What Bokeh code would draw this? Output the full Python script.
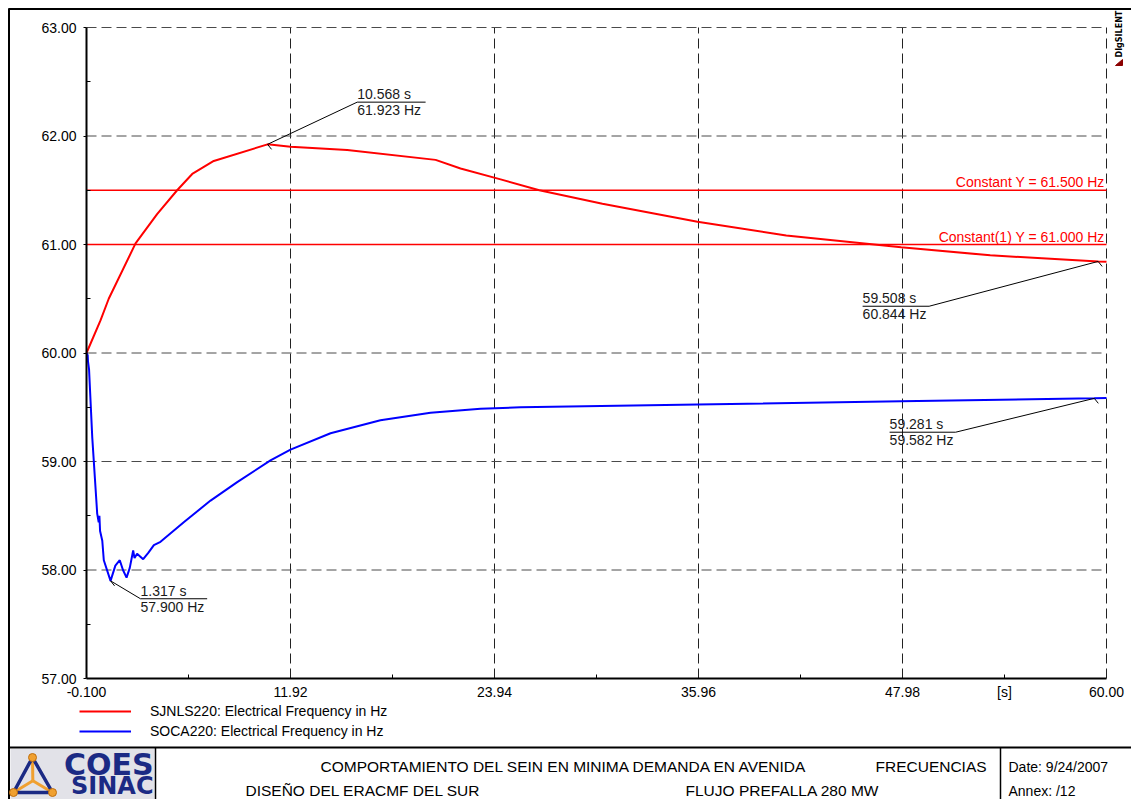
import math
from bokeh.plotting import figure
from bokeh.models import (FixedTicker, Legend, LegendItem, ColumnDataSource, Range1d,
                          CustomJSTickFormatter)
from bokeh.core.properties import value
from bokeh.embed import file_html
from bokeh.resources import INLINE

# ---------------- data ----------------
red_name = "SJNLS220: Electrical Frequency in Hz"
red_t = [-0.1, 0.725, 1.21, 2.79, 4.06, 5.24, 6.13, 7.40, 10.568, 11.92, 15.26, 20.47,
         21.94, 24.30, 26.58, 30.30, 35.90, 41.13, 47.90, 53.15, 59.508, 60.0]
red_f = [60.00, 60.30, 60.50, 61.01, 61.28, 61.50, 61.65, 61.77, 61.923, 61.90, 61.87, 61.78,
         61.70, 61.60, 61.50, 61.375, 61.21, 61.083, 60.975, 60.90, 60.844, 60.84]

blue_name = "SOCA220: Electrical Frequency in Hz"
blue_t = [-0.1, -0.03, -0.01, 0.05, 0.24, 0.53, 0.62, 0.66, 0.70, 0.83, 0.92, 1.317,
          1.60, 1.86, 2.05, 2.26, 2.45, 2.65, 2.73, 2.88, 3.24, 3.55, 3.87, 4.26,
          5.63, 7.21, 8.78, 10.74, 11.92, 14.28, 17.22, 20.17, 23.12, 25.47,
          35.90, 47.90, 59.281, 60.0]
blue_f = [60.00, 59.98, 59.92, 59.85, 59.22, 58.52, 58.44, 58.50, 58.36, 58.27, 58.09, 57.90,
          58.04, 58.09, 58.00, 57.93, 58.02, 58.18, 58.11, 58.15, 58.10, 58.16, 58.23, 58.26,
          58.44, 58.64, 58.81, 59.01, 59.11, 59.26, 59.38, 59.45, 59.486, 59.50,
          59.525, 59.556, 59.582, 59.585]

const_levels = [61.5, 61.0]
const_labels = ["Constant Y = 61.500 Hz", "Constant(1) Y = 61.000 Hz"]

x_min, x_max = -0.1, 60.0
y_min, y_max = 57.0, 63.0
x_ticks = [-0.1, 11.92, 23.94, 35.96, 47.98, 60.0]
x_tick_labels = ["-0.100", "11.92", "23.94", "35.96", "47.98", "60.00"]
x_unit_pos = 53.99
x_unit_label = "[s]"
y_ticks = [57.0, 58.0, 59.0, 60.0, 61.0, 62.0, 63.0]
y_tick_labels = ["57.00", "58.00", "59.00", "60.00", "61.00", "62.00", "63.00"]

# cursor annotations (marked point, label box in data coordinates)
ann_t = [10.568, 59.508, 59.281, 1.317]
ann_f = [61.923, 60.844, 59.582, 57.900]
ann_x0 = [15.85, 45.63, 47.22, 3.08]
ann_x1 = [19.88, 49.55, 51.11, 7.01]
ann_y = [62.312, 60.431, 59.270, 57.735]
ann_side = ["left", "right", "right", "left"]

title_line1 = "COMPORTAMIENTO DEL SEIN EN MINIMA DEMANDA EN AVENIDA"
title_tag = "FRECUENCIAS"
title_line2 = "DISEÑO DEL ERACMF DEL SUR"
title_line2b = "FLUJO PREFALLA  280 MW"
date_text = "Date:  9/24/2007"
annex_text = "Annex:  /12"
logo_top = "COES"
logo_bottom = "SINAC"
brand = "DIgSILENT"

FONT = "Liberation Sans"
RED = "#ff0000"
BLUE = "#0000ff"
NAVY = "#1b2a84"
ORANGE = "#f0a030"

# page geometry (pixels): plot area inside the 1131 x 799 page
W, H = 1131, 799
AREA_L, AREA_R, AREA_T, AREA_B = 86, 1106, 27, 678
PXS = (AREA_R - AREA_L) / (x_max - x_min)   # pixels per second
PXH = (AREA_B - AREA_T) / (y_max - y_min)   # pixels per Hz

p = figure(width=W, height=H,
           x_range=Range1d(x_min - AREA_L / PXS, x_max + (W - AREA_R) / PXS),
           y_range=Range1d(y_min - (H - AREA_B) / PXH, y_max + AREA_T / PXH),
           output_backend="svg", toolbar_location=None, min_border=0)
p.extra_x_ranges = {"page": Range1d(0, W)}
p.extra_y_ranges = {"page": Range1d(H, 0)}
p.outline_line_color = None
p.background_fill_color = "white"
p.border_fill_color = "white"
p.grid.visible = False

# ---------------- axes (fixed at the plot-area edges) ----------------
x_minor = [(a + b) / 2 for a, b in zip(x_ticks[:-1], x_ticks[1:])]
y_minor = [(a + b) / 2 for a, b in zip(y_ticks[:-1], y_ticks[1:])]
fmt_code = """
for (let i = 0; i < tk.length; i++) {
  if (Math.abs(tick - tk[i]) < 1e-6) return lb[i];
}
return '';
"""
xa, ya = p.xaxis[0], p.yaxis[0]
xa.ticker = FixedTicker(ticks=x_ticks + [x_unit_pos], minor_ticks=x_minor)
ya.ticker = FixedTicker(ticks=y_ticks, minor_ticks=y_minor)
xa.formatter = CustomJSTickFormatter(args=dict(tk=x_ticks + [x_unit_pos],
                                               lb=x_tick_labels + [x_unit_label]), code=fmt_code)
ya.formatter = CustomJSTickFormatter(args=dict(tk=y_ticks, lb=y_tick_labels), code=fmt_code)
xa.fixed_location = y_min
ya.fixed_location = x_min
xa.bounds = (x_min, x_max)
ya.bounds = (y_min, y_max)
for ax in (xa, ya):
    ax.axis_line_width = 2
    ax.axis_line_color = "black"
    ax.major_label_text_font = FONT
    ax.major_label_text_font_size = "14px"
    ax.major_label_text_color = "black"
    ax.minor_tick_in = 4
    ax.minor_tick_out = 0
    ax.minor_tick_line_color = "black"
    ax.major_tick_line_color = "black"
xa.major_tick_in = 0
xa.major_tick_out = 0
xa.major_label_standoff = 5
ya.major_tick_in = 0
ya.major_tick_out = 3
ya.major_label_standoff = 7

# dashed grid inside the plot area
p.segment(x0=x_ticks[1:], y0=[y_min] * (len(x_ticks) - 1), x1=x_ticks[1:],
          y1=[y_max] * (len(x_ticks) - 1), line_color="#222222", line_width=1,
          line_dash="10 5")
p.segment(x0=[x_min] * (len(y_ticks) - 1), y0=y_ticks[1:], x1=[x_max] * (len(y_ticks) - 1),
          y1=y_ticks[1:], line_color="#4a4a4a", line_width=1, line_dash="10 5")

# constant lines
p.segment(x0=[x_min] * len(const_levels), y0=const_levels, x1=[x_max] * len(const_levels),
          y1=const_levels, line_color=RED, line_width=1.5)
p.text(x=[x_max - 0.1] * len(const_levels), y=const_levels, text=const_labels,
       text_color=RED, text_font=value(FONT), text_font_size=value("14px"),
       text_align="right", text_baseline="bottom")

# curves
r_red = p.line(red_t, red_f, line_color=RED, line_width=2)
r_blue = p.line(blue_t, blue_f, line_color=BLUE, line_width=2)

# cursor annotations
end_x = [a if s == "left" else b for a, b, s in zip(ann_x0, ann_x1, ann_side)]
p.segment(x0=ann_t, y0=ann_f, x1=end_x, y1=ann_y, line_color="black", line_width=1)
p.segment(x0=ann_x0, y0=ann_y, x1=ann_x1, y1=ann_y, line_color="black", line_width=1)
p.segment(x0=ann_t, y0=ann_f, x1=[t + 4 / PXS for t in ann_t],
          y1=[f - 5 / PXH for f in ann_f], line_color="black", line_width=1)
src = ColumnDataSource(dict(x=ann_x0, y=ann_y,
                            ts=[f"{t:.3f} s" for t in ann_t],
                            fs=[f"{f:.3f} Hz" for f in ann_f]))
p.text(x="x", y="y", text="ts", source=src, text_color="#1a1a1a", text_font=value(FONT),
       text_font_size=value("14px"), text_align="left", text_baseline="bottom")
p.text(x="x", y="y", text="fs", source=src, text_color="#1a1a1a", text_font=value(FONT),
       text_font_size=value("14px"), text_align="left", text_baseline="top")

# legend under the plot area (screen units from the page's bottom-left)
p.add_layout(Legend(items=[LegendItem(label=red_name, renderers=[r_red]),
                           LegendItem(label=blue_name, renderers=[r_blue])],
                    location=(79, 58), orientation="vertical",
                    border_line_alpha=0, background_fill_alpha=0, padding=0, margin=0,
                    spacing=0, label_height=20, glyph_height=20, glyph_width=52,
                    label_standoff=19, label_text_font=FONT, label_text_font_size="14px",
                    label_text_color="black"))

# ---------------- page frame and title block (page pixel coordinates) ----------------
pg = dict(x_range_name="page", y_range_name="page")
p.quad(left=[10], right=[154], top=[748.5], bottom=[799], fill_color="#e2e2e8",
       line_alpha=0, **pg)
p.segment(x0=[8.5, 8, 8, 155, 1000], y0=[8, 8.5, 747, 747, 747],
          x1=[8.5, W, W, 155, 1000], y1=[H, 8.5, 747, H, H],
          line_color="black", line_width=[2, 2, 2, 1.5, 1.5], **pg)

tri_x = [32, 13, 52]
tri_y = [757, 792, 792]
cx, cy = sum(tri_x) / 3, sum(tri_y) / 3
p.multi_line(xs=[[cx, vx] for vx in tri_x], ys=[[cy, vy] for vy in tri_y],
             line_color=ORANGE, line_width=3, **pg)
p.line(x=tri_x + tri_x[:1], y=tri_y + tri_y[:1], line_color=NAVY, line_width=3.5, **pg)
p.scatter(x=tri_x, y=tri_y, size=8, fill_color=ORANGE, line_color="#c07010", **pg)
p.text(x=[153, 153], y=[763.5, 785], text=[logo_top, logo_bottom], text_color=NAVY,
       text_font=value("DejaVu Sans"), text_font_style="bold",
       text_font_size=["30px", "24px"], text_align="right", text_baseline="middle", **pg)

p.text(x=[320, 875, 245, 685], y=[766, 766, 790, 790],
       text=[title_line1, title_tag, title_line2, title_line2b], text_color="black",
       text_font=value(FONT), text_font_size=value("15.5px"), text_align="left",
       text_baseline="middle", **pg)
p.text(x=[1008, 1008], y=[766, 790], text=[date_text, annex_text], text_color="black",
       text_font=value(FONT), text_font_size=value("14px"), text_align="left",
       text_baseline="middle", **pg)

# DIgSILENT mark (vertical, top-right corner)
p.text(x=[1119], y=[57], text=[brand], angle=math.pi / 2, text_color="black",
       text_font=value("DejaVu Sans"), text_font_style="bold", text_font_size=value("8px"),
       text_align="left", text_baseline="middle", **pg)
p.patch(x=[1115, 1122, 1122], y=[65, 59, 65], fill_color="#8b0000", line_color="#8b0000",
        **pg)

open("out.html", "w").write(file_html(p, INLINE))
